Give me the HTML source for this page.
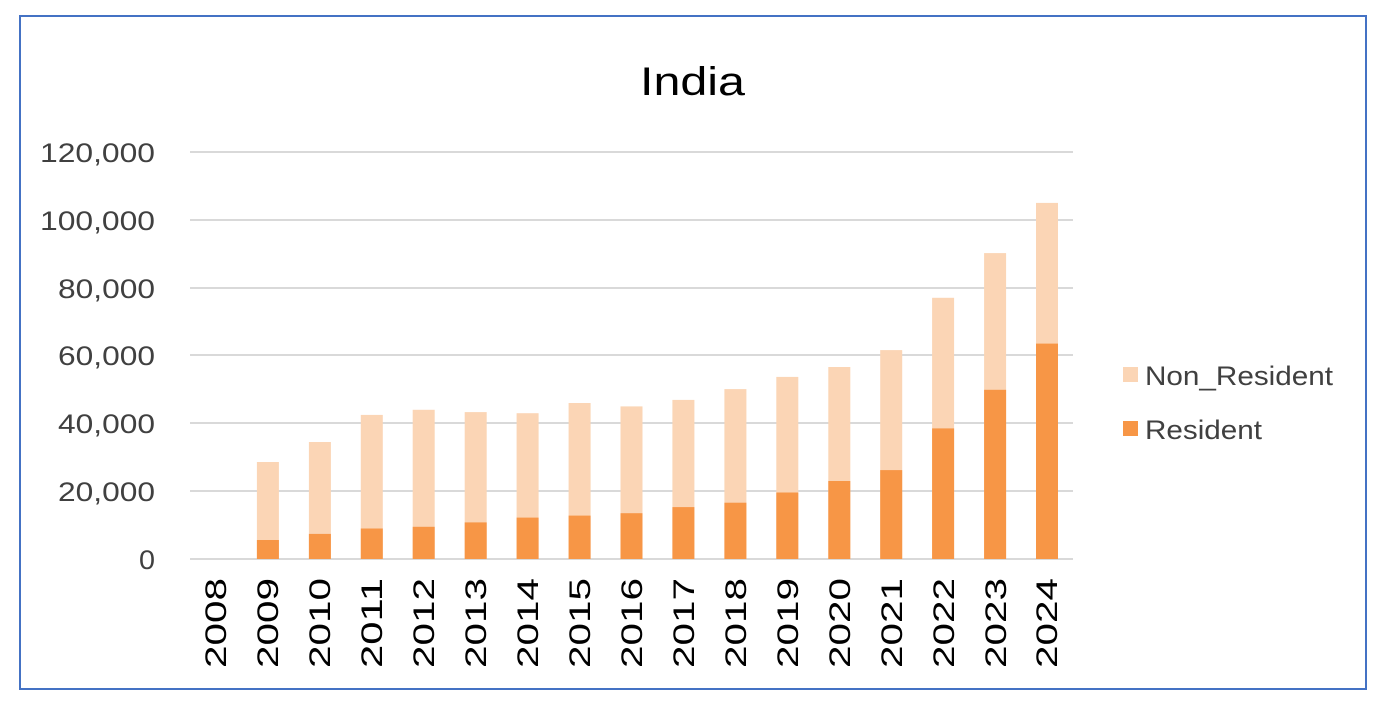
<!DOCTYPE html>
<html><head><style>
body{margin:0;background:#fff;}
</style></head><body>
<svg width="1376" height="703" xmlns="http://www.w3.org/2000/svg" font-family="'Liberation Sans', sans-serif">
<rect x="0" y="0" width="1376" height="703" fill="#fff"/>
<rect x="20" y="16" width="1346" height="673" fill="#fff" stroke="#4472c4" stroke-width="2"/>
<text x="640" y="95" font-size="40" textLength="105" lengthAdjust="spacingAndGlyphs" fill="#000">India</text>
<g stroke="#d9d9d9" stroke-width="2">
<line x1="190" x2="1073" y1="152" y2="152"/>
<line x1="190" x2="1073" y1="220" y2="220"/>
<line x1="190" x2="1073" y1="288" y2="288"/>
<line x1="190" x2="1073" y1="355" y2="355"/>
<line x1="190" x2="1073" y1="423" y2="423"/>
<line x1="190" x2="1073" y1="491" y2="491"/>
<line x1="190" x2="1073" y1="559" y2="559"/>
</g>
<g font-size="27" fill="#404040" lengthAdjust="spacingAndGlyphs">
<text x="40" y="162" textLength="115" lengthAdjust="spacingAndGlyphs">120,000</text>
<text x="40" y="230" textLength="115" lengthAdjust="spacingAndGlyphs">100,000</text>
<text x="58" y="298" textLength="97" lengthAdjust="spacingAndGlyphs">80,000</text>
<text x="58" y="365" textLength="97" lengthAdjust="spacingAndGlyphs">60,000</text>
<text x="58" y="433" textLength="97" lengthAdjust="spacingAndGlyphs">40,000</text>
<text x="58" y="501" textLength="97" lengthAdjust="spacingAndGlyphs">20,000</text>
<text x="139" y="569" textLength="16" lengthAdjust="spacingAndGlyphs">0</text>
</g>
<g fill="#fbd5b5">
<rect x="256.9" y="462" width="22" height="97"/>
<rect x="308.9" y="442" width="22" height="117"/>
<rect x="360.8" y="414.9" width="22" height="144.1"/>
<rect x="412.7" y="409.8" width="22" height="149.2"/>
<rect x="464.7" y="412.1" width="22" height="146.9"/>
<rect x="516.6" y="413.2" width="22" height="145.8"/>
<rect x="568.6" y="403" width="22" height="156"/>
<rect x="620.5" y="406.4" width="22" height="152.6"/>
<rect x="672.4" y="399.9" width="22" height="159.1"/>
<rect x="724.4" y="389.1" width="22" height="169.9"/>
<rect x="776.3" y="376.9" width="22" height="182.1"/>
<rect x="828.3" y="367" width="22" height="192"/>
<rect x="880.2" y="350.1" width="22" height="208.9"/>
<rect x="932.1" y="297.8" width="22" height="261.2"/>
<rect x="984.1" y="253.1" width="22" height="305.9"/>
<rect x="1036" y="202.9" width="22" height="356.1"/>
</g>
<g fill="#f79646">
<rect x="256.9" y="540" width="22" height="19"/>
<rect x="308.9" y="533.9" width="22" height="25.1"/>
<rect x="360.8" y="528.5" width="22" height="30.5"/>
<rect x="412.7" y="526.8" width="22" height="32.2"/>
<rect x="464.7" y="522.4" width="22" height="36.6"/>
<rect x="516.6" y="517.6" width="22" height="41.4"/>
<rect x="568.6" y="515.6" width="22" height="43.4"/>
<rect x="620.5" y="513.2" width="22" height="45.8"/>
<rect x="672.4" y="507.1" width="22" height="51.9"/>
<rect x="724.4" y="502.7" width="22" height="56.3"/>
<rect x="776.3" y="492.5" width="22" height="66.5"/>
<rect x="828.3" y="481" width="22" height="78"/>
<rect x="880.2" y="470.1" width="22" height="88.9"/>
<rect x="932.1" y="428.4" width="22" height="130.6"/>
<rect x="984.1" y="389.8" width="22" height="169.2"/>
<rect x="1036" y="343.6" width="22" height="215.4"/>
</g>
<g font-size="30" fill="#000">
<text transform="translate(226,668) rotate(-90)" textLength="90" lengthAdjust="spacingAndGlyphs">2008</text>
<text transform="translate(278,668) rotate(-90)" textLength="90" lengthAdjust="spacingAndGlyphs">2009</text>
<text transform="translate(330,668) rotate(-90)" textLength="90" lengthAdjust="spacingAndGlyphs">2010</text>
<text transform="translate(382,668) rotate(-90)" textLength="90" lengthAdjust="spacingAndGlyphs">2011</text>
<text transform="translate(434,668) rotate(-90)" textLength="90" lengthAdjust="spacingAndGlyphs">2012</text>
<text transform="translate(486,668) rotate(-90)" textLength="90" lengthAdjust="spacingAndGlyphs">2013</text>
<text transform="translate(538,668) rotate(-90)" textLength="90" lengthAdjust="spacingAndGlyphs">2014</text>
<text transform="translate(590,668) rotate(-90)" textLength="90" lengthAdjust="spacingAndGlyphs">2015</text>
<text transform="translate(642,668) rotate(-90)" textLength="90" lengthAdjust="spacingAndGlyphs">2016</text>
<text transform="translate(694,668) rotate(-90)" textLength="90" lengthAdjust="spacingAndGlyphs">2017</text>
<text transform="translate(746,668) rotate(-90)" textLength="90" lengthAdjust="spacingAndGlyphs">2018</text>
<text transform="translate(798,668) rotate(-90)" textLength="90" lengthAdjust="spacingAndGlyphs">2019</text>
<text transform="translate(850,668) rotate(-90)" textLength="90" lengthAdjust="spacingAndGlyphs">2020</text>
<text transform="translate(902,668) rotate(-90)" textLength="90" lengthAdjust="spacingAndGlyphs">2021</text>
<text transform="translate(954,668) rotate(-90)" textLength="90" lengthAdjust="spacingAndGlyphs">2022</text>
<text transform="translate(1006,668) rotate(-90)" textLength="90" lengthAdjust="spacingAndGlyphs">2023</text>
<text transform="translate(1057,668) rotate(-90)" textLength="90" lengthAdjust="spacingAndGlyphs">2024</text>
</g>
<rect x="1123" y="367" width="15" height="15" fill="#fbd5b5"/>
<rect x="1123" y="421" width="15" height="15" fill="#f79646"/>
<text x="1145" y="385" font-size="27" fill="#404040" textLength="188" lengthAdjust="spacingAndGlyphs">Non_Resident</text>
<text x="1145" y="439" font-size="27" fill="#404040" textLength="117" lengthAdjust="spacingAndGlyphs">Resident</text>
</svg>
</body></html>
